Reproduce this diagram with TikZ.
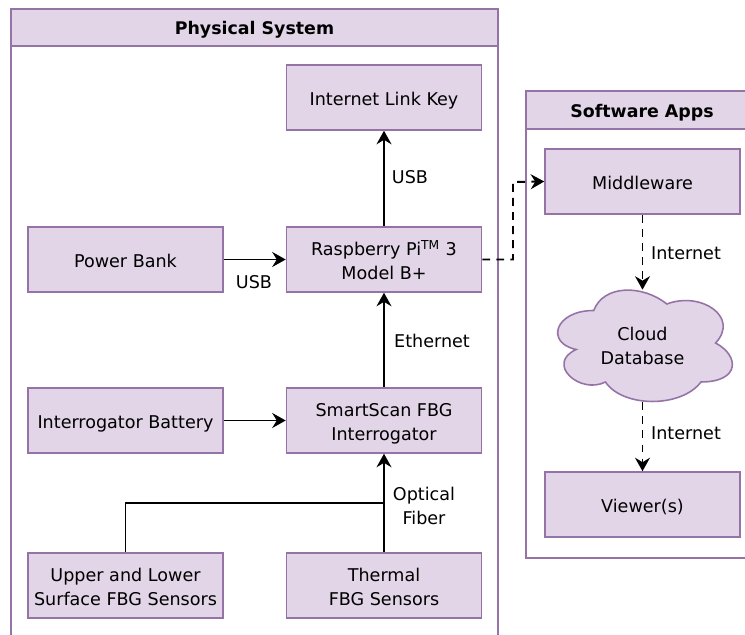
\documentclass[tikz,border=0pt]{standalone}
\usepackage{fontspec}
\setmainfont{DejaVu Sans}
\usetikzlibrary{arrows.meta}
\definecolor{boxfill}{HTML}{E1D5E7}
\definecolor{boxline}{HTML}{9673A6}
\tikzset{
  block/.style={draw=boxline,fill=boxfill,line width=0.9pt,minimum width=3.9cm,minimum height=1.3cm,align=center,font=\fontsize{10}{13.6}\selectfont,inner sep=0pt,text depth=0pt},
  oneline/.style={block,text height=9.6pt},
  twoline/.style={block,text height=23pt},
  grouphead/.style={draw=boxline,fill=boxfill,line width=0.9pt,minimum height=0.75cm,inner sep=0pt,font=\fontsize{9.9}{12}\selectfont\bfseries,text height=8.2pt,text depth=0pt},
  groupbody/.style={draw=boxline,line width=0.9pt,inner sep=0pt},
  wire/.style={line width=1.08pt,-{Stealth[length=2.7mm,width=3mm,inset=0.9mm]}},
  dashwire/.style={wire,dash pattern=on 4.5pt off 3.5pt},
  note/.style={font=\fontsize{10}{13.6}\selectfont,align=center,inner sep=0pt}
}
\begin{document}
\begin{tikzpicture}[x=0.02cm,y=-0.02cm]
\path[use as bounding box,clip] (0,0) rectangle (745,635);
\node [groupbody,minimum width=9.74cm,minimum height=12.6cm] (physbody) at (254.5,361){}; %Physical group
\node [grouphead,minimum width=9.74cm] (physhead) at (254.5,27.5){Physical System};
\node [groupbody,minimum width=4.64cm,minimum height=8.6cm] (softbody) at (642,343){}; %Software group
\node [grouphead,minimum width=4.64cm] (softhead) at (642,110){Software Apps};

\node [oneline] (linkkey) at (384,97.5){Internet Link Key};
\node [oneline] (powerbank) at (125.5,259.5){Power Bank};
\node [twoline] (raspi) at (384,259.5){Raspberry Pi\textsuperscript{TM} 3\\Model B+};
\node [oneline] (battery) at (125.5,420.5){Interrogator Battery};
\node [twoline] (smartscan) at (384,420.5){SmartScan FBG\\Interrogator};
\node [twoline] (upper) at (125.5,585.5){Upper and Lower\\Surface FBG Sensors};
\node [twoline] (thermal) at (384,585.5){Thermal\\FBG Sensors};
\node [oneline] (middleware) at (642.5,181.5){Middleware};
\node [oneline] (viewer) at (642.5,504.5){Viewer(s)};

%cloud outline
\begin{scope}[shift={(545,278)},x=3.9cm,y=-2.6cm]
\draw [draw=boxline,fill=boxfill,line width=0.9pt] (0.25,0.25) .. controls (0.05,0.25) and (0,0.5) .. (0.16,0.55)
  .. controls (0,0.66) and (0.18,0.9) .. (0.31,0.8)
  .. controls (0.4,1) and (0.7,1) .. (0.8,0.8)
  .. controls (1,0.8) and (1,0.6) .. (0.875,0.5)
  .. controls (1,0.3) and (0.8,0.1) .. (0.625,0.2)
  .. controls (0.5,0.05) and (0.3,0.05) .. (0.25,0.25) -- cycle;
\end{scope}
\node [note,minimum width=3cm,minimum height=2.24cm] (cloud) at (642.5,346){\raisebox{4pt}{\parbox{3cm}{\centering Cloud\\Database}}};

\coordinate (fiberjoin) at (384,503);
\coordinate (dashbend) at (513,182);

\draw [wire] (raspi) -- (linkkey);
\draw [wire] (powerbank) -- (raspi);
\draw [wire] (smartscan) -- (raspi);
\draw [wire] (battery) -- (smartscan);
\draw [wire] (thermal) -- (smartscan);
\draw [line width=1.08pt] (upper.north) |- (fiberjoin);
\draw [dashwire] (raspi.east) -| (dashbend) -- (middleware.west);
\draw [dashwire] (middleware) -- (cloud);
\draw [dashwire] (cloud) -- (viewer);

\node [note] (usbup) at (410,177){USB};
\node [note] (usbright) at (254,282){USB};
\node [note] (ethernet) at (432,341){Ethernet};
\node [note] (fiber) at (424,506){Optical\\Fiber};
\node [note] (netup) at (686,253){Internet};
\node [note] (netdown) at (686,433){Internet};
\end{tikzpicture}
\end{document}
